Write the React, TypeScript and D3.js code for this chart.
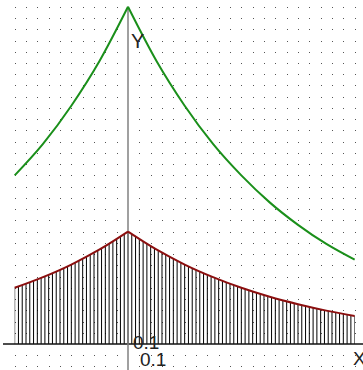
import React from "react";
import * as d3 from "d3";

// Sample abscissas and the two exponential curves read at those points
const xs = [-1, -0.75, -0.5, -0.25, 0, 0.25, 0.5, 0.75, 1, 1.25, 1.5, 1.75, 2];
const upperCurve = [1.5, 1.78, 2.12, 2.52, 3, 2.52, 2.12, 1.78, 1.5, 1.26, 1.06, 0.89, 0.75];
const lowerCurve = [0.5, 0.595, 0.707, 0.841, 1, 0.841, 0.707, 0.595, 0.5, 0.42, 0.354, 0.297, 0.25];

// Riemann strips: 90 strips over [-1, 2]
const stripCount = 90;
const stripDomain = [-1, 2];

const axisLabels = { x: "X", y: "Y" };
const tickLabels = ["0.1", "0.1"];

const W = 363;
const H = 370;

type Pt = [number, number];

export default function App() {
  const x = d3.scaleLinear().domain([0, 1]).range([128, 128 + 113.33]);
  const y = d3.scaleLinear().domain([0, 1]).range([344, 344 - 112.4]);

  // dotted grid every 0.1 units
  const gx = d3.range(-10, 22).map((i) => i / 10);
  const gy = d3.range(-2, 31).map((i) => i / 10);
  const dots: { cx: number; cy: number }[] = [];
  gx.forEach((a) =>
    gy.forEach((b) => {
      if (Math.abs(b) < 1e-9 || Math.abs(a) < 1e-9) return;
      dots.push({ cx: Math.round(x(a)), cy: Math.round(y(b)) });
    })
  );

  // each curve has a corner at x = 0, so draw the two sides separately
  const peak = xs.indexOf(0);
  const halves = (vals: number[]): Pt[][] => {
    const pts: Pt[] = xs.map((v, i) => [v, vals[i]]);
    return [pts.slice(0, peak + 1), pts.slice(peak)];
  };

  const line = d3
    .line<Pt>()
    .x((d) => x(d[0]))
    .y((d) => y(d[1]))
    .curve(d3.curveMonotoneX);

  const area = d3
    .area<Pt>()
    .x((d) => x(d[0]))
    .y0(y(0))
    .y1((d) => y(d[1]))
    .curve(d3.curveMonotoneX);

  const step = (stripDomain[1] - stripDomain[0]) / stripCount;
  const stripEdges = d3.range(stripCount + 1).map((i) => stripDomain[0] + i * step);

  const upperPath = halves(upperCurve).map((h) => line(h) ?? "").join("");
  const lowerPath = halves(lowerCurve).map((h) => line(h) ?? "").join("");
  const lowerArea = halves(lowerCurve).map((h) => area(h) ?? "");

  return (
    <svg
      width={W}
      height={H}
      style={{ position: "absolute", left: 0, top: 0, background: "#fff" }}
      fontFamily="'Liberation Sans', Arial, sans-serif"
    >
      <defs>
        <clipPath id="under">
          {lowerArea.map((d, i) => (
            <path key={i} d={d} />
          ))}
        </clipPath>
      </defs>
      <g>
        {dots.map((d, i) => (
          <rect key={i} x={d.cx} y={d.cy} width={1} height={1} fill="#555" />
        ))}
      </g>
      <g clipPath="url(#under)">
        {stripEdges.map((v, i) => (
          <line
            key={i}
            x1={x(v)}
            x2={x(v)}
            y1={y(0)}
            y2={y(1.1)}
            stroke="#000"
            strokeWidth={1}
          />
        ))}
      </g>
      <line x1={3} x2={W} y1={y(0)} y2={y(0)} stroke="#111" strokeWidth={1.5} />
      <line x1={x(0)} x2={x(0)} y1={y(3)} y2={H} stroke="#808080" strokeWidth={1.5} />
      <path d={upperPath} fill="none" stroke="#1a8f1a" strokeWidth={2} strokeLinejoin="miter" />
      <path d={lowerPath} fill="none" stroke="#8b0f0f" strokeWidth={2} />
      <text x={131} y={48} fontSize={20} fill="#222">{axisLabels.y}</text>
      <text x={353} y={365} fontSize={19} fill="#222">{axisLabels.x}</text>
      <text x={133} y={349} fontSize={19} fill="#222">{tickLabels[0]}</text>
      <text x={140} y={366} fontSize={19} fill="#222">{tickLabels[1]}</text>
    </svg>
  );
}
